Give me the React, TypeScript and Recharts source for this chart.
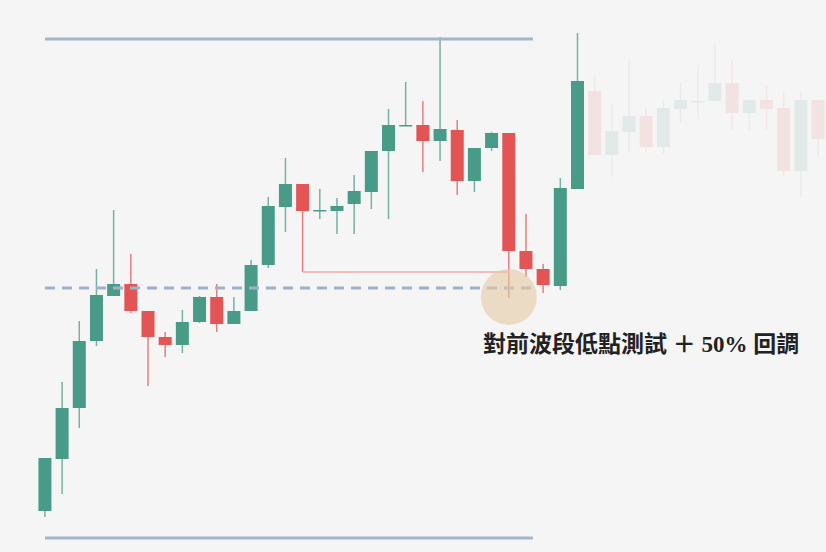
import { Bar, ComposedChart, ReferenceDot, ReferenceLine, XAxis, YAxis } from "recharts";

// OHLC per session, in price points
const opens = [41, 93, 144, 211, 256, 268, 241, 215, 207, 230, 255, 228, 241, 287, 345, 368, 342, 341, 348, 360, 401, 427, 427, 411, 422, 371, 404, 419, 301, 283, 266, 363, 461, 397, 420, 436, 405, 443, 451, 451, 469, 439, 452, 444, 381, 452];
const highs = [94, 170, 231, 283, 342, 298, 241, 220, 242, 256, 268, 255, 292, 355, 394, 368, 363, 354, 377, 401, 443, 470, 451, 515, 432, 404, 420, 419, 338, 288, 374, 519, 476, 448, 491, 443, 452, 469, 484, 507, 492, 452, 467, 460, 460, 452];
const lows = [35, 58, 124, 206, 256, 239, 166, 195, 199, 229, 220, 228, 241, 284, 320, 280, 333, 318, 318, 343, 333, 427, 380, 391, 357, 360, 401, 254, 275, 259, 262, 363, 397, 375, 399, 399, 398, 429, 436, 451, 422, 422, 422, 375, 354, 395];
const closes = [94, 144, 211, 257, 268, 241, 215, 207, 230, 255, 228, 241, 287, 346, 368, 341, 342, 346, 361, 401, 427, 427, 411, 423, 371, 404, 419, 301, 283, 267, 364, 471, 397, 421, 436, 405, 444, 452, 451, 469, 439, 452, 443, 381, 452, 413];

// sessions from here on are the "future" part, drawn faded
const fadeFrom = 32;

// range box and levels
const rangeTop = 513;
const rangeBottom = 14;
const midLevel = 264;
const swingLow = 280;
const swingFrom = 15;
const swingTo = 27;
const rangeSpan = [0, 28.4];
const testBar = 27;
const testPrice = 255;

const UP = "#489c87";
const DOWN = "#e35454";

const data = opens.map((open, i) => ({
  i,
  open,
  high: highs[i],
  low: lows[i],
  close: closes[i],
  faded: i >= fadeFrom,
}));

function Candle(props: any) {
  const { x, y, width, height, payload } = props;
  const top = Math.min(y, y + height);
  const h = Math.abs(height);
  const { open, close, high, low, faded } = payload;
  const k = h / (high - low || 1);
  const py = (v: number) => top + (high - v) * k;
  const color = close >= open ? UP : DOWN;
  const bodyTop = py(Math.max(open, close));
  const bodyH = Math.max(py(Math.min(open, close)) - bodyTop, 1.5);
  const cx = x + width / 2;
  return (
    <g opacity={faded ? 0.11 : 1}>
      <line x1={cx} x2={cx} y1={top} y2={top + h} stroke={color} strokeWidth={1.5} strokeOpacity={0.75} />
      <rect x={x} y={bodyTop} width={width} height={bodyH} fill={color} />
    </g>
  );
}

export default function App() {
  return (
    <div style={{ position: "absolute", left: 0, top: 0, width: 826, height: 552, background: "#f5f5f5" }}>
      <ComposedChart width={826} height={552} data={data} margin={{ top: 0, right: 0, bottom: 0, left: 0 }}>
        <XAxis type="number" dataKey="i" domain={[-2.62, 45.46]} allowDataOverflow hide />
        <YAxis type="number" domain={[0, 552]} allowDataOverflow hide />
        <Bar dataKey={(d: any) => [d.low, d.high]} barSize={13} shape={<Candle />} isAnimationActive={false} />
        <ReferenceLine
          segment={[{ x: rangeSpan[0], y: rangeTop }, { x: rangeSpan[1], y: rangeTop }]}
          stroke="#a3b5c9"
          strokeWidth={3}
        />
        <ReferenceLine
          segment={[{ x: rangeSpan[0], y: rangeBottom }, { x: rangeSpan[1], y: rangeBottom }]}
          stroke="#a3b5c9"
          strokeWidth={3}
        />
        <ReferenceLine
          segment={[{ x: rangeSpan[0], y: midLevel }, { x: rangeSpan[1], y: midLevel }]}
          stroke="#9fb1ca"
          strokeWidth={3}
          strokeDasharray="10 7"
        />
        <ReferenceLine
          segment={[{ x: swingFrom, y: swingLow }, { x: swingTo, y: swingLow }]}
          stroke="#f2bcbc"
          strokeWidth={2}
        />
        <ReferenceDot x={testBar} y={testPrice} r={28} fill="#e6c9a3" fillOpacity={0.6} stroke="none" />
      </ComposedChart>
      <div
        style={{
          position: "absolute",
          left: 483,
          top: 333,
          fontFamily: '"Liberation Serif", "Noto Sans CJK TC", serif',
          fontWeight: 700,
          fontSize: 23,
          lineHeight: 1,
          color: "#222",
          whiteSpace: "nowrap",
        }}
      >
        對前波段低點測試 ＋ 50% 回調
      </div>
    </div>
  );
}
